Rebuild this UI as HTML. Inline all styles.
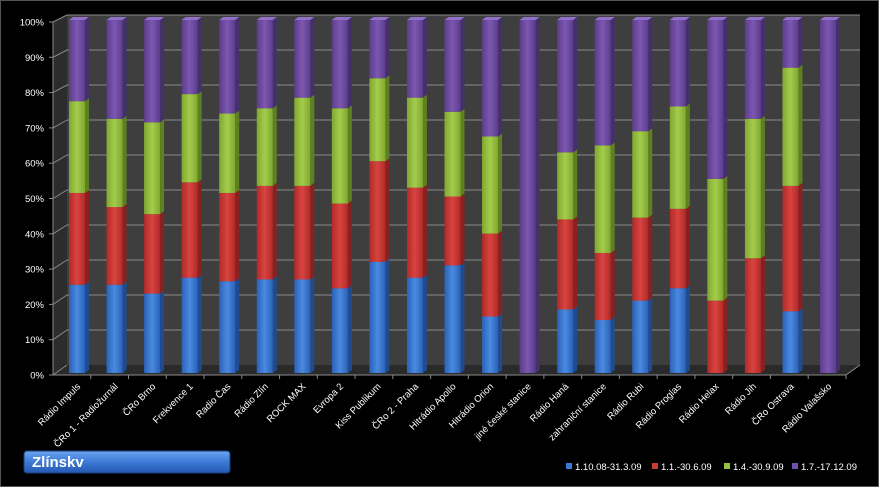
<!DOCTYPE html>
<html><head><meta charset="utf-8"><style>
body{margin:0;background:#000;}
svg{display:block;font-family:"Liberation Sans",sans-serif;}
</style></head><body>
<svg width="879" height="487" viewBox="0 0 879 487">
<defs>
<linearGradient id="bl" x1="0" x2="1"><stop offset="0" stop-color="#2a62b8"/><stop offset=".5" stop-color="#4a8ae0"/><stop offset="1" stop-color="#2a62b8"/></linearGradient>
<linearGradient id="rd" x1="0" x2="1"><stop offset="0" stop-color="#b02a28"/><stop offset=".5" stop-color="#d84440"/><stop offset="1" stop-color="#b02a28"/></linearGradient>
<linearGradient id="gr" x1="0" x2="1"><stop offset="0" stop-color="#80a830"/><stop offset=".5" stop-color="#a4cc4c"/><stop offset="1" stop-color="#80a830"/></linearGradient>
<linearGradient id="pu" x1="0" x2="1"><stop offset="0" stop-color="#5c3c8c"/><stop offset=".5" stop-color="#7c58b0"/><stop offset="1" stop-color="#5c3c8c"/></linearGradient>
<linearGradient id="tb" x1="0" y1="0" x2="0" y2="1"><stop offset="0" stop-color="#6aa4ee"/><stop offset=".5" stop-color="#3c7ad6"/><stop offset="1" stop-color="#2458b0"/></linearGradient>
</defs>
<rect x="0.5" y="0.5" width="878" height="486" fill="#000" stroke="#555"/>
<!-- walls -->
<polygon points="53,22 67,15 67,365 53,375" fill="#2c2c2c"/>
<rect x="67" y="15" width="793" height="350" fill="#3e3e3e"/>
<polygon points="53,375 67,365 860,365 846,375" fill="#2a2a2a"/>
<g id="grid" stroke="#8a8a8a" stroke-width="1" fill="none"></g>
<g id="bars"></g>
<g id="axis" fill="#fff" font-size="9.5"></g>
<rect x="24" y="451" width="206" height="22" rx="3" fill="url(#tb)" stroke="#1a3f80"/>
<text x="32" y="467" fill="#fff" font-size="15" font-weight="bold">Zlínskv</text>
<g font-size="9.5" fill="#fff">
<rect x="566" y="463" width="6" height="6" fill="#3a7ad4"/><text x="575" y="470">1.10.08-31.3.09</text>
<rect x="652" y="463" width="6" height="6" fill="#c83a36"/><text x="661" y="470">1.1.-30.6.09</text>
<rect x="724" y="463" width="6" height="6" fill="#94c040"/><text x="733" y="470">1.4.-30.9.09</text>
<rect x="792" y="463" width="6" height="6" fill="#7050a8"/><text x="801" y="470">1.7.-17.12.09</text>
</g>
</svg>
<script>
const ns="http://www.w3.org/2000/svg";
function el(t,a,p){const e=document.createElementNS(ns,t);for(const k in a)e.setAttribute(k,a[k]);p.appendChild(e);return e;}
const grid=document.getElementById('grid'),bars=document.getElementById('bars'),ax=document.getElementById('axis');
for(let i=0;i<=10;i++){
 const yb=365-i*35,yf=375-i*35.3;
 if(i>0)el('line',{x1:67,y1:yb,x2:860,y2:yb},grid);
 el('line',{x1:53,y1:yf,x2:67,y2:yb},grid);
 el('line',{x1:49,y1:yf,x2:53,y2:yf},grid);
 const t=el('text',{x:44,y:yf+3.5,'text-anchor':'end'},ax);t.textContent=(i*10)+'%';
}
el('line',{x1:53,y1:22,x2:53,y2:375,stroke:'#8a8a8a'},grid);
el('line',{x1:53,y1:375,x2:846,y2:375,stroke:'#8a8a8a'},grid);
el('line',{x1:846,y1:375,x2:860,y2:365,stroke:'#8a8a8a'},grid);
const names=["Rádio Impuls","ČRo 1 - Radiožurnál","ČRo Brno","Frekvence 1","Radio Čas","Rádio Zlín","ROCK MAX","Evropa 2","Kiss Publikum","ČRo 2 - Praha","Hitrádio Apollo","Hitrádio Orion","jiné české stanice","Rádio Haná","zahraniční stanice","Rádio Rubi","Rádio Proglas","Rádio Helax","Rádio Jih","ČRo Ostrava","Rádio Valašsko"];
const v=[[25,51,77],[25,47,72],[22.5,45,71],[27,54,79],[26,51,73.5],[26.5,53,75],[26.5,53,78],[24,48,75],[31.5,60,83.5],[27,52.5,78],[30.5,50,74],[16,39.5,67],[0,0,0],[18,43.5,62.5],[15,34,64.5],[20.5,44,68.5],[24,46.5,75.5],[0,20.5,55],[0,32.5,72],[17.5,53,86.5],[0,0,0]];
const fills=['url(#bl)','url(#rd)','url(#gr)','url(#pu)'],sides=['#1f4c90','#8a2020','#5e8020','#44306c'],tops=['#5a9ae8','#e06060','#b8dc60','#9070c8'];
const Y=p=>373-p*3.53;
names.forEach((n,i)=>{
 const cx=77+i*37.55,x=cx-8,w=16,d=4;
 const b=[0,...v[i],100];
 for(let s=0;s<4;s++){
  const y0=Y(b[s]),y1=Y(b[s+1]);if(y0-y1<0.1)continue;
  el('polygon',{points:`${x+w},${y1} ${x+w+d},${y1-3} ${x+w+d},${y0-3} ${x+w},${y0}`,fill:sides[s]},bars);
  el('rect',{x:x,y:y1,width:w,height:y0-y1,fill:fills[s]},bars);
 }
 el('polygon',{points:`${x},20 ${x+d},17 ${x+w+d},17 ${x+w},20`,fill:tops[3]},bars);
 const tx=53+(i+1)*37.76;
 el('line',{x1:tx,y1:375,x2:tx,y2:379,stroke:'#8a8a8a'},grid);
 const t=el('text',{x:cx+4,y:387,'text-anchor':'end',transform:`rotate(-45 ${cx+4} 387)`},ax);t.textContent=n;
});
</script>
</body></html>
